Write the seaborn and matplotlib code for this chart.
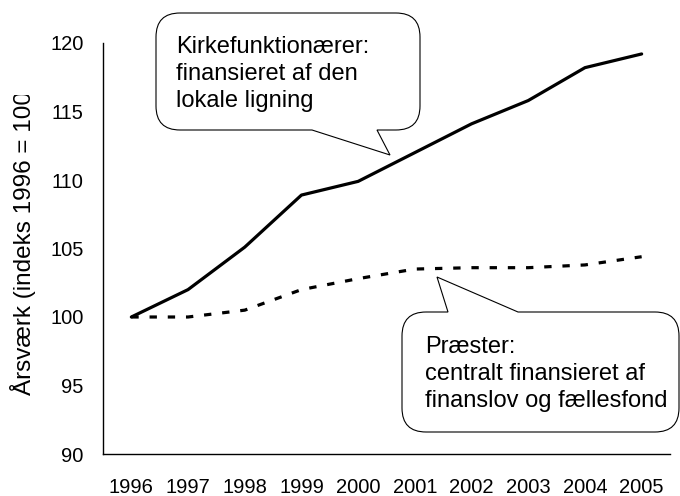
import numpy as np
import pandas as pd
import matplotlib
matplotlib.use('Agg')
import matplotlib.pyplot as plt
import seaborn as sns
from matplotlib.path import Path
from matplotlib.patches import PathPatch
from matplotlib.transforms import Affine2D, Bbox, TransformedBbox

# data
years = [1996, 1997, 1998, 1999, 2000, 2001, 2002, 2003, 2004, 2005]
kirke = [100.0, 102.0, 105.1, 108.9, 109.9, 112.0, 114.1, 115.8, 118.2, 119.2]
praester = [100.0, 100.0, 100.5, 102.0, 102.8, 103.5, 103.6, 103.6, 103.8, 104.4]
ytick_vals = [90, 95, 100, 105, 110, 115, 120]

txt_kirke = 'Kirkefunktionærer:\nfinansieret af den\nlokale ligning'
txt_praest = 'Præster:\ncentralt finansieret af\nfinanslov og fællesfond'
ylabel = 'Årsværk (indeks 1996 = 100)'

sns.set_style('white')
plt.rcParams['font.family'] = ['Liberation Sans', 'DejaVu Sans']
for k in ['text.color', 'axes.labelcolor', 'xtick.color', 'ytick.color']:
    plt.rcParams[k] = 'black'

W, H = 680, 496
fig = plt.figure(figsize=(W / 100, H / 100), dpi=100)
ax = fig.add_axes([103 / W, 1 - 454 / H, 567 / W, 411 / H])

pos = np.arange(len(years))
df = pd.DataFrame({'pos': np.concatenate([pos, pos]),
                   'value': kirke + praester,
                   'serie': ['kirke'] * len(years) + ['praest'] * len(years)})

sns.lineplot(data=df[df.serie == 'kirke'], x='pos', y='value', ax=ax,
             color='black', lw=2.3, legend=False)
sns.lineplot(data=df[df.serie == 'praest'], x='pos', y='value', ax=ax,
             color='black', lw=2.3, legend=False)
ax.lines[1].set_linestyle((0, (2.3, 3.4)))

ax.set_xlim(-0.5, len(years) - 0.5)
ax.set_ylim(90, 120)
ax.set_yticks(ytick_vals)
ax.set_xticks(pos, [str(y) for y in years])
ax.set_xticks(np.arange(len(years) + 1) - 0.5, minor=True)
ax.tick_params(axis='x', which='major', length=0, pad=17.5, labelsize=14.5)
ax.tick_params(axis='x', which='minor', length=6, width=1, color='black', direction='out')
ax.tick_params(axis='y', length=6, width=1, color='black', direction='out', pad=8, labelsize=14.5)
ax.set_xlabel('')
ax.set_ylabel(ylabel, fontsize=17.5)
ax.yaxis.set_label_coords(-0.118, 0.523)
for s in ['top', 'right']:
    ax.spines[s].set_visible(False)
for s in ['left', 'bottom']:
    ax.spines[s].set_color('black')
    ax.spines[s].set_linewidth(1)

# label is cut off at the top in the original
lab = ax.yaxis.label
lab.set_clip_on(True)
lab.set_clip_box(TransformedBbox(Bbox.from_extents(0, 0, 1, 1 - 95 / H), fig.transFigure))

# callouts, laid out in pixels from the top-left corner
px = Affine2D().scale(1 / 100, -1 / 100).translate(0, H / 100) + fig.dpi_scale_trans


def callout(x0, x1, y0, y1, r, tail, side):
    b1, tip, b2 = tail
    v = [(x0 + r, y0)]
    if side == 'top':
        v += [(b1, y0), tip, (b2, y0)]
    v += [(x1 - r, y0), (x1, y0), (x1, y0 + r), (x1, y1 - r), (x1, y1), (x1 - r, y1)]
    if side == 'bottom':
        v += [(b2, y1), tip, (b1, y1)]
    v += [(x0 + r, y1), (x0, y1), (x0, y1 - r), (x0, y0 + r), (x0, y0), (x0 + r, y0)]
    codes = [Path.MOVETO]
    if side == 'top':
        codes += [Path.LINETO] * 3
    codes += [Path.LINETO, Path.CURVE3, Path.CURVE3, Path.LINETO, Path.CURVE3, Path.CURVE3]
    if side == 'bottom':
        codes += [Path.LINETO] * 3
    codes += [Path.LINETO, Path.CURVE3, Path.CURVE3, Path.LINETO, Path.CURVE3, Path.CURVE3]
    patch = PathPatch(Path(v, codes), facecolor='white', edgecolor='black', lw=0.8,
                      transform=px, zorder=5, clip_on=False)
    fig.add_artist(patch)


callout(156, 420, 13, 130, 24, (312, (390, 155), 377), 'bottom')
callout(402, 679, 312, 432, 24, (448, (437, 277), 518), 'top')

fig.text(176 / W, 1 - 36 / H, txt_kirke, fontsize=17, va='top', ha='left',
         linespacing=1.3, zorder=6)
fig.text(425 / W, 1 - 336 / H, txt_praest, fontsize=17, va='top', ha='left',
         linespacing=1.3, zorder=6)

fig.savefig('out.png', dpi=100)
